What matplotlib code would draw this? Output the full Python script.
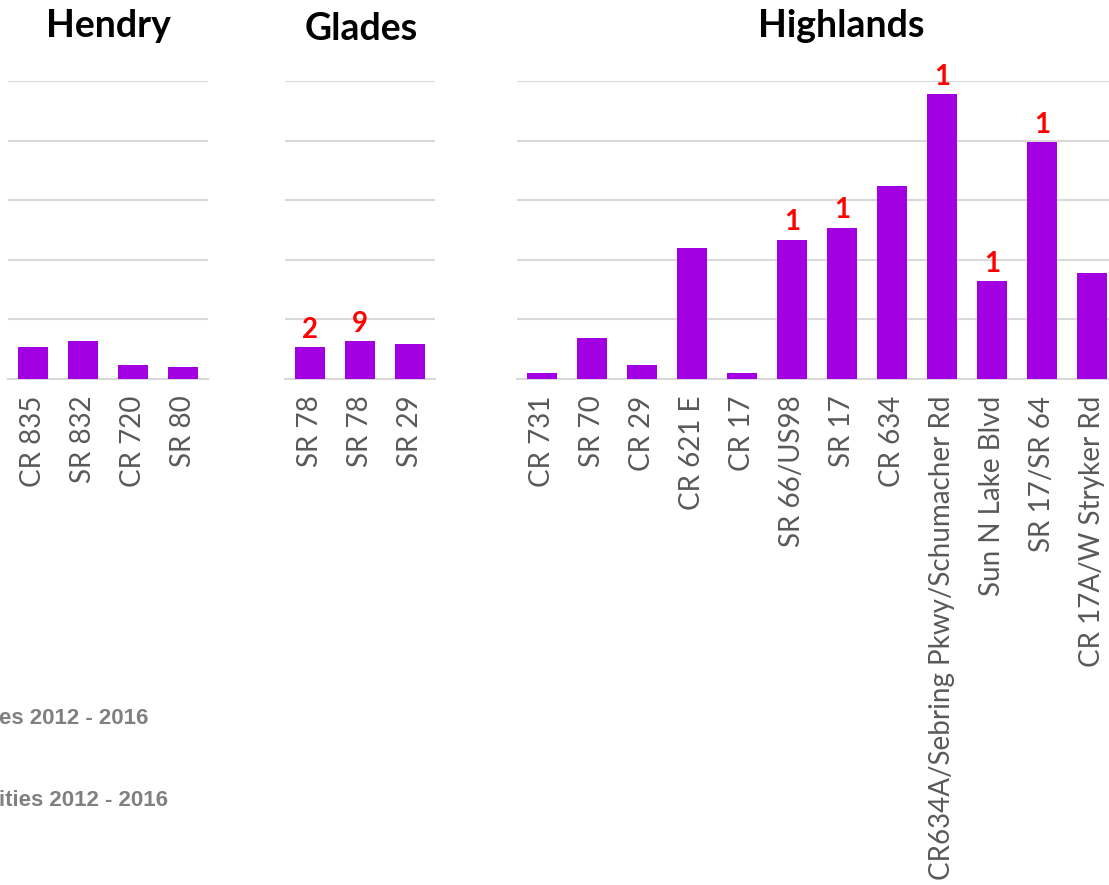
import matplotlib
matplotlib.use("Agg")
import matplotlib.pyplot as plt

# Roadway groups by county, bar value plus optional red count above each bar
HENDRY_ROADS = ["CR 835", "SR 832", "CR 720", "SR 80"]
HENDRY_VALUES = [5.3, 6.3, 2.4, 2.0]
HENDRY_COUNTS = [None, None, None, None]

GLADES_ROADS = ["SR 78", "SR 78", "SR 29"]
GLADES_VALUES = [5.3, 6.3, 5.9]
GLADES_COUNTS = ["2", "9", None]

HIGHLANDS_ROADS = [
    "CR 731", "SR 70", "CR 29", "CR 621 E", "CR 17", "SR 66/US98", "SR 17",
    "CR 634", "CR634A/Sebring Pkwy/Schumacher Rd", "Sun N Lake Blvd",
    "SR 17/SR 64", "CR 17A/W Stryker Rd",
]
HIGHLANDS_VALUES = [1.0, 6.9, 2.4, 22.0, 1.0, 23.4, 25.4, 32.4, 47.8, 16.4, 39.8, 17.8]
HIGHLANDS_COUNTS = [None, None, None, None, None, "1", "1", None, "1", "1", "1", None]

LEGEND_LINES = ["es 2012 - 2016", "ities 2012 - 2016"]

BAR_COLOR = "#a200e3"
GRID_COLOR = "#d9d9d9"
TICK_COLOR = "#595959"
COUNT_COLOR = "#ff0000"

W, H = 1109, 885
fig = plt.figure(figsize=(W / 100, H / 100), dpi=100)
fig.patch.set_facecolor("white")

base_px, top_px = 379, 81
bottom = 1 - base_px / H
height = (base_px - top_px) / H

panels = [
    ("Hendry", HENDRY_ROADS, HENDRY_VALUES, HENDRY_COUNTS, 8, 108, 26),
    ("Glades", GLADES_ROADS, GLADES_VALUES, GLADES_COUNTS, 285, 361, 29),
    ("Highlands", HIGHLANDS_ROADS, HIGHLANDS_VALUES, HIGHLANDS_COUNTS, 517, 841, 26),
]

for title, roads, values, counts, left_px, title_x, title_y in panels:
    n = len(roads)
    ax = fig.add_axes([left_px / W, bottom, 50 * n / W, height])
    xs = list(range(n))
    bars = ax.bar(xs, values, width=0.6, color=BAR_COLOR, zorder=3)
    ax.set_xlim(-0.5, n - 0.5)
    ax.set_ylim(0, 50)
    ax.set_yticks([10, 20, 30, 40, 50])
    ax.yaxis.grid(True, color=GRID_COLOR, linewidth=1.5, zorder=0)
    ax.tick_params(axis="y", left=False, labelleft=False)
    ax.tick_params(axis="x", length=0, pad=12, labelsize=20, labelcolor=TICK_COLOR)
    ax.set_xticks(xs)
    ax.set_xticklabels(roads, rotation=90, family="Lato")
    for side in ("top", "left", "right"):
        ax.spines[side].set_visible(False)
    ax.spines["bottom"].set_color(GRID_COLOR)
    ax.spines["bottom"].set_linewidth(1.5)
    for rect, c in zip(bars, counts):
        if c is None:
            continue
        ax.annotate(c, (rect.get_x() + rect.get_width() / 2, rect.get_height()),
                    xytext=(0, 3), textcoords="offset points", ha="center", va="bottom",
                    fontsize=20, fontweight="bold", color=COUNT_COLOR, family="Lato",
                    annotation_clip=False)
    fig.text(title_x / W, 1 - title_y / H, title, ha="center", va="center",
             fontsize=27, fontweight="bold", family="Lato", color="black")

for line, y_px in zip(LEGEND_LINES, [719, 801]):
    fig.text(-1 / W, 1 - y_px / H, line, ha="left", va="center", fontsize=16,
             fontweight="bold", family="Liberation Sans", color="#808080")

fig.savefig("out.png", dpi=100)
